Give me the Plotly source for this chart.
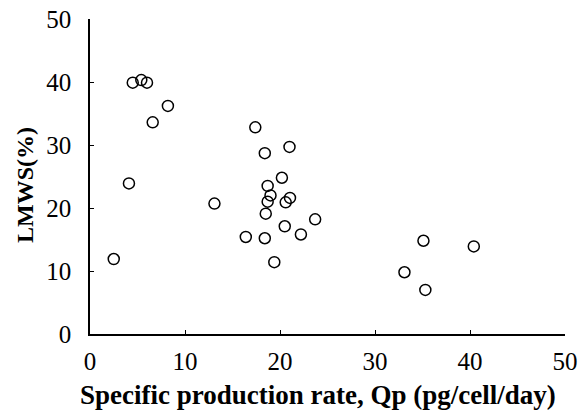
import plotly.graph_objects as go

# Specific production rate (pg/cell/day) and LMWS (%) for each clone
qp = [2.5, 4.1, 4.5, 5.4, 6.0, 6.6, 8.2, 13.1,
      16.4, 17.4, 18.4, 18.4, 18.5, 18.7, 18.7, 19.0, 19.4,
      20.2, 20.5, 20.6, 21.0, 21.05, 22.2, 23.7,
      33.1, 35.1, 35.3, 40.4]
lmws = [11.9, 23.9, 39.9, 40.3, 39.9, 33.6, 36.2, 20.7,
        15.4, 32.8, 28.7, 15.2, 19.1, 23.5, 21.0, 22.0, 11.4,
        24.8, 17.1, 20.9, 29.7, 21.6, 15.8, 18.2,
        9.8, 14.8, 7.0, 13.9]

x_ticks = [0, 10, 20, 30, 40, 50]
y_ticks = [0, 10, 20, 30, 40, 50]

x_title = "Specific production rate, Qp (pg/cell/day)"
y_title = "LMWS(%)"

serif = "Liberation Serif, Times New Roman, serif"

fig = go.Figure(
    go.Scatter(
        x=qp, y=lmws, mode="markers",
        marker=dict(symbol="circle-open", size=11, color="black",
                    line=dict(width=1.5, color="black")),
        cliponaxis=False,
    )
)

fig.update_layout(
    width=580, height=412,
    margin=dict(l=90, r=15, t=19, b=78),
    plot_bgcolor="white", paper_bgcolor="white",
    showlegend=False,
    font=dict(family=serif, color="black"),
    annotations=[
        dict(text=f"<b>{x_title}</b>", xref="paper", yref="paper",
             x=0.48, y=-0.194, xanchor="center", yanchor="middle",
             showarrow=False, font=dict(size=27, family=serif, color="black")),
        dict(text=f"<b>{y_title}</b>", xref="paper", yref="paper",
             x=-0.137, y=0.473, xanchor="center", yanchor="middle", textangle=-90,
             showarrow=False, font=dict(size=24, family=serif, color="black")),
    ],
)

fig.update_xaxes(
    range=[0, 50], tickvals=x_ticks, ticktext=[str(v) for v in x_ticks],
    automargin=False,
    showgrid=False, zeroline=False, showline=True, linecolor="black", linewidth=1.5,
    ticks="inside", ticklen=4, tickcolor="black", tickwidth=1,
    ticklabelstandoff=4,
    tickfont=dict(size=25, family=serif, color="black"),
)
fig.update_yaxes(
    range=[0, 50], tickvals=y_ticks, ticktext=[str(v) for v in y_ticks],
    automargin=False,
    showgrid=False, zeroline=False, showline=True, linecolor="black", linewidth=1.5,
    ticks="inside", ticklen=4, tickcolor="black", tickwidth=1,
    ticklabelstandoff=12,
    tickfont=dict(size=25, family=serif, color="black"),
)

fig.write_html("out.html")
